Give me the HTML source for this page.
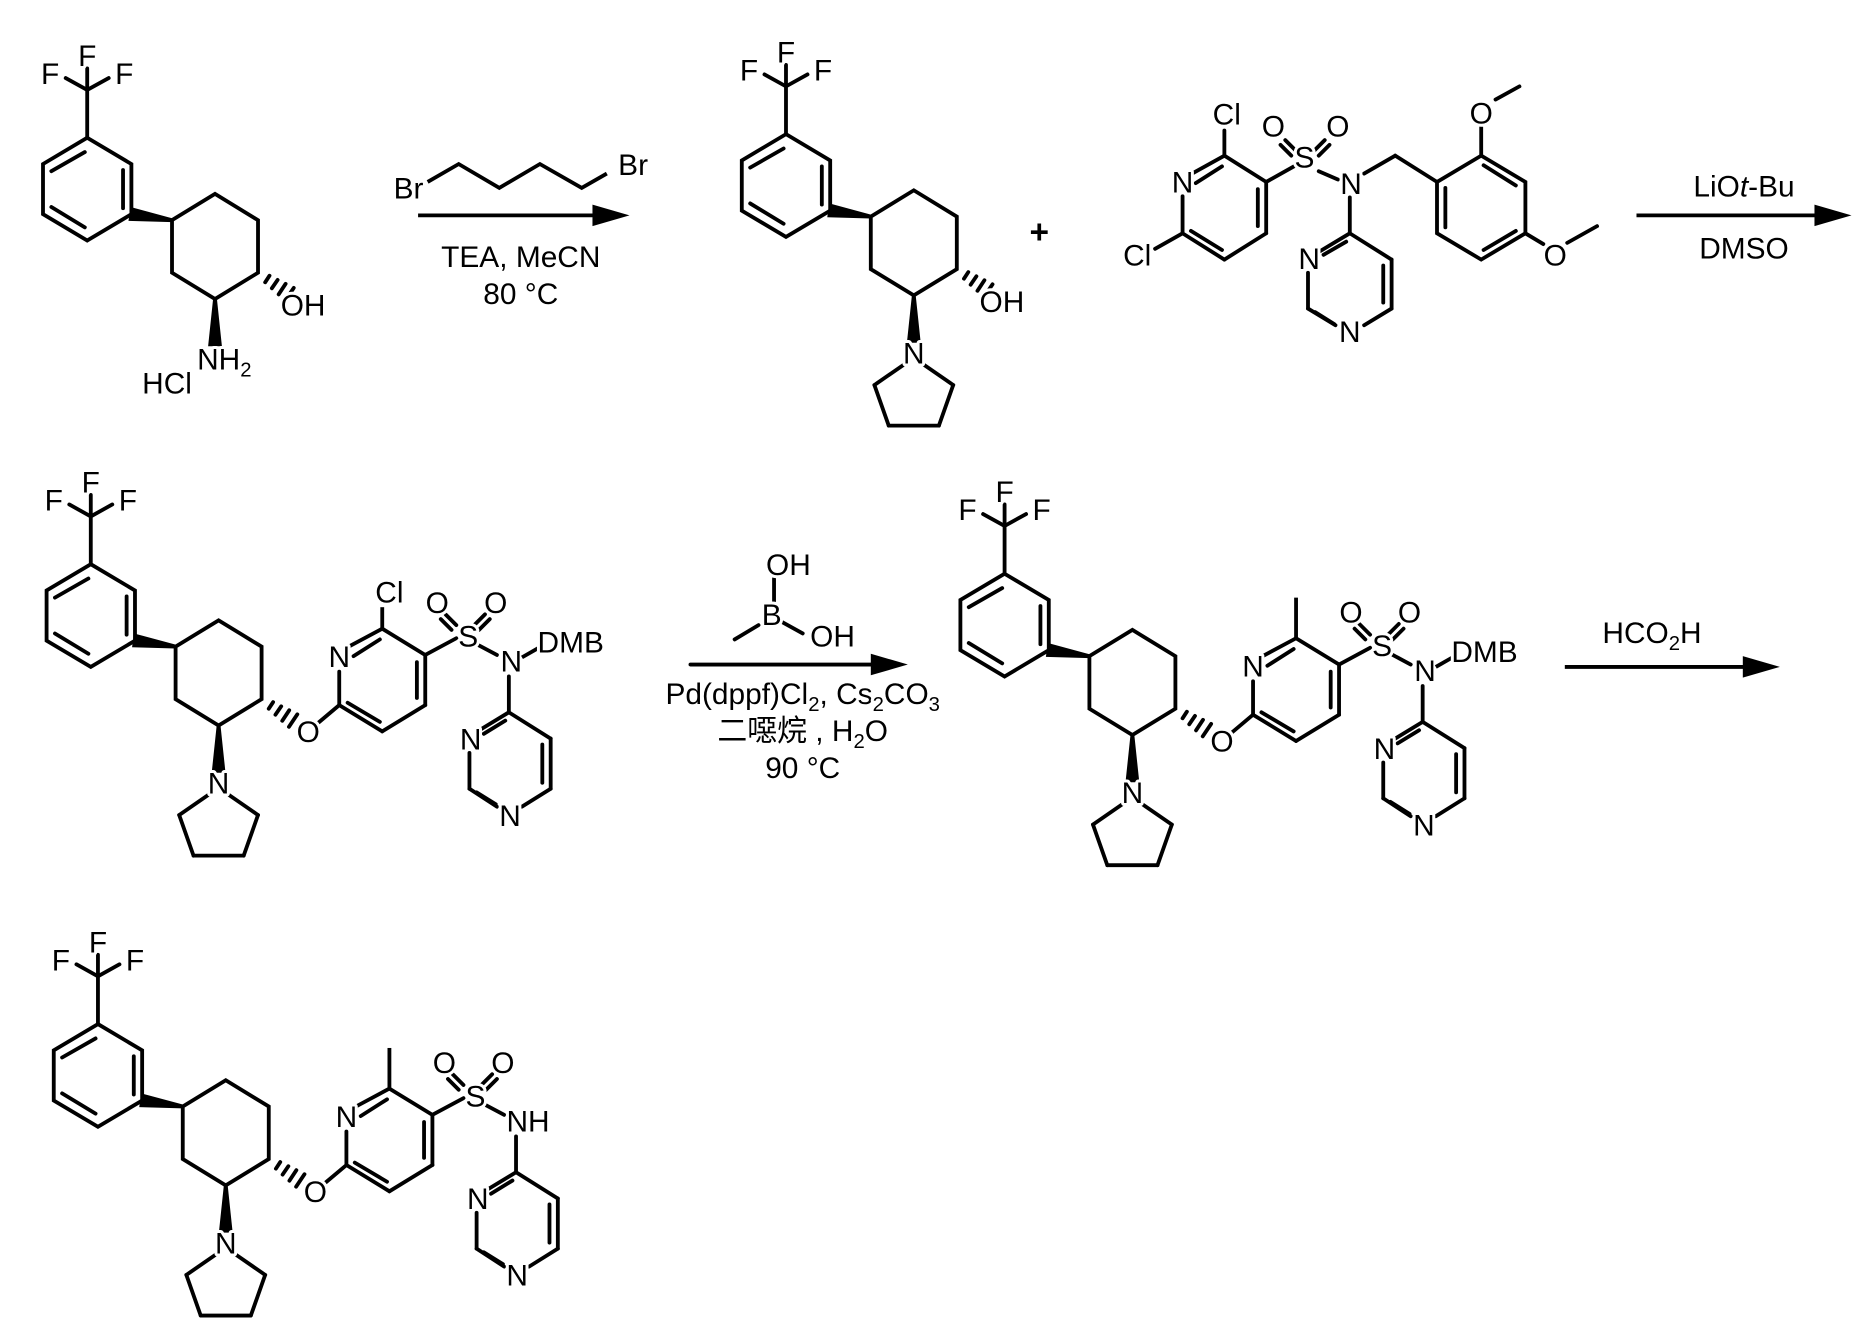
<!DOCTYPE html>
<html><head><meta charset="utf-8"><style>
html,body{margin:0;padding:0;background:#fff;}
svg{display:block;}
text{font-family:"Liberation Sans","Noto Sans CJK SC",sans-serif;font-size:25px;fill:#000;stroke:#fff;stroke-width:5px;paint-order:stroke;stroke-linejoin:round;}
</style></head><body>
<svg width="1873" height="1341" viewBox="0 0 1568 1122" xmlns="http://www.w3.org/2000/svg">
<defs>
<g id="core" stroke="#000" stroke-width="3.2" fill="none" stroke-linecap="round">
  <line x1="76" y1="472" x2="76" y2="432"/>
  <line x1="76" y1="432" x2="76" y2="414"/>
  <line x1="76" y1="432" x2="58" y2="422"/>
  <line x1="76" y1="432" x2="94" y2="422"/>
  <polygon points="76,472 113,494 113,536 76,558 39,536 39,494"/>
  <line x1="46" y1="500" x2="74" y2="484"/>
  <line x1="106" y1="499" x2="106" y2="531"/>
  <line x1="46" y1="530" x2="74" y2="547"/>
  <polygon points="147,541 113.6,532 112.4,540" fill="#000"/>
  <polygon points="147,541 183,519 219,541 219,585 183,607 147,585"/>
  <line x1="225" y1="593" x2="228.6" y2="587.5"/>
  <line x1="230.6" y1="598" x2="235.4" y2="591"/>
  <line x1="236.3" y1="603.1" x2="242.1" y2="594.3"/>
  <line x1="241.9" y1="608.1" x2="248.9" y2="597.7"/>
  <polygon points="183,607 179,645 187,645" fill="#000"/>
</g>
<g id="cf3t">
  <text x="76" y="412" text-anchor="middle">F</text>
  <text x="45" y="427" text-anchor="middle">F</text>
  <text x="107" y="427" text-anchor="middle">F</text>
</g>
<g id="pyr">
  <g stroke="#000" stroke-width="3.2" fill="none" stroke-linecap="round">
  <line x1="190" y1="664" x2="216" y2="682"/>
  <line x1="216" y1="682" x2="204" y2="716"/>
  <line x1="204" y1="716" x2="162" y2="716"/>
  <line x1="162" y1="716" x2="150" y2="682"/>
  <line x1="150" y1="682" x2="176" y2="664"/>
  </g>
  <text x="183" y="664" text-anchor="middle">N</text>
</g>
<g id="tail" stroke="#000" stroke-width="3.2" fill="none" stroke-linecap="round">
  <line x1="265" y1="606" x2="284" y2="590"/>
  <line x1="284" y1="590" x2="284" y2="562"/>
  <line x1="292" y1="541" x2="320" y2="526"/>
  <line x1="320" y1="526" x2="356" y2="548"/>
  <line x1="356" y1="548" x2="356" y2="590"/>
  <line x1="356" y1="590" x2="320" y2="612"/>
  <line x1="320" y1="612" x2="284" y2="590"/>
  <line x1="296" y1="549" x2="318" y2="535"/>
  <line x1="349" y1="554" x2="349" y2="584"/>
  <line x1="318" y1="604" x2="291" y2="588"/>
  <line x1="356" y1="548" x2="382" y2="534"/>
  <line x1="382" y1="523" x2="373" y2="514"/>
  <line x1="378" y1="527" x2="369" y2="518"/>
  <line x1="397" y1="523" x2="406" y2="514"/>
  <line x1="401" y1="527" x2="410" y2="518"/>
  <line x1="401" y1="540" x2="416" y2="548"/>
  <line x1="426" y1="566" x2="426" y2="596"/>
  <line x1="426" y1="596" x2="403" y2="610"/>
  <line x1="393" y1="630" x2="393" y2="660"/>
  <line x1="393" y1="660" x2="416" y2="675"/>
  <line x1="437" y1="675" x2="461" y2="660"/>
  <line x1="461" y1="660" x2="461" y2="618"/>
  <line x1="461" y1="618" x2="426" y2="596"/>
  <line x1="423" y1="603" x2="405" y2="614"/>
  <line x1="454" y1="623" x2="454" y2="655"/>
  <line x1="399" y1="663" x2="415" y2="673"/>
</g>
<g id="tailt">
  <text x="284" y="558" text-anchor="middle">N</text>
  <text x="392" y="541" text-anchor="middle">S</text>
  <text x="366" y="513" text-anchor="middle">O</text>
  <text x="415" y="513" text-anchor="middle">O</text>
  <text x="394" y="627" text-anchor="middle">N</text>
  <text x="427" y="691" text-anchor="middle">N</text>
</g>
</defs>

<!-- Molecule 1 -->
<g transform="translate(-3,-357)">
  <use href="#core"/><use href="#cf3t"/>
  <text x="238" y="621">OH</text>
  <text x="168" y="666">NH<tspan font-size="17" dy="6">2</tspan></text>
  <text x="122" y="686">HCl</text>
</g>

<!-- Arrow 1 -->
<g stroke="#000" stroke-width="3.2" fill="none">
  <polyline points="358,152 384,137 418,157 452,137 487,157 508,145"/>
  <line x1="350" y1="180" x2="505" y2="180"/>
</g>
<polygon points="527,180 496,171 496,189" fill="#000"/>
<text x="342" y="166" text-anchor="middle">Br</text>
<text x="530" y="146" text-anchor="middle">Br</text>
<text x="436" y="223" text-anchor="middle">TEA, MeCN</text>
<text x="436" y="254" text-anchor="middle">80 °C</text>

<!-- Molecule 2 -->
<g transform="translate(582,-360)">
  <use href="#core"/><use href="#cf3t"/><use href="#pyr"/>
  <text x="238" y="621">OH</text>
</g>
<text x="870" y="203" text-anchor="middle" font-weight="bold" style="font-size:28px">+</text>

<!-- Reagent sulfonamide -->
<g stroke="#000" stroke-width="3.2" fill="none" stroke-linecap="round">
  <line x1="990" y1="195" x2="990" y2="164"/>
  <line x1="998" y1="145" x2="1025" y2="130"/>
  <line x1="1025" y1="130" x2="1060" y2="152"/>
  <line x1="1060" y1="152" x2="1060" y2="195"/>
  <line x1="1060" y1="195" x2="1025" y2="217"/>
  <line x1="1025" y1="217" x2="990" y2="195"/>
  <line x1="1001" y1="153" x2="1023" y2="139"/>
  <line x1="1053" y1="158" x2="1053" y2="189"/>
  <line x1="1023" y1="209" x2="997" y2="193"/>
  <line x1="1025" y1="130" x2="1025" y2="109"/>
  <line x1="990" y1="195" x2="967" y2="208"/>
  <line x1="1060" y1="152" x2="1085" y2="138"/>
  <line x1="1085" y1="126" x2="1076" y2="117"/>
  <line x1="1081" y1="130" x2="1072" y2="121"/>
  <line x1="1100" y1="126" x2="1109" y2="117"/>
  <line x1="1104" y1="130" x2="1113" y2="121"/>
  <line x1="1104" y1="143" x2="1120" y2="150"/>
  <line x1="1142" y1="145" x2="1168" y2="130"/>
  <line x1="1168" y1="130" x2="1203" y2="152"/>
  <polygon points="1240,130 1277,152 1277,195 1240,217 1203,195 1203,152"/>
  <line x1="1210" y1="157" x2="1210" y2="190"/>
  <line x1="1242" y1="138" x2="1269" y2="155"/>
  <line x1="1269" y1="193" x2="1242" y2="209"/>
  <line x1="1240" y1="130" x2="1240" y2="106"/>
  <line x1="1252" y1="83" x2="1272" y2="72"/>
  <line x1="1277" y1="195" x2="1292" y2="204"/>
  <line x1="1312" y1="203" x2="1337" y2="189"/>
  <line x1="1130" y1="165" x2="1130" y2="195"/>
  <line x1="1130" y1="195" x2="1105" y2="210"/>
  <line x1="1095" y1="228" x2="1095" y2="258"/>
  <line x1="1095" y1="258" x2="1118" y2="272"/>
  <line x1="1142" y1="272" x2="1165" y2="258"/>
  <line x1="1165" y1="258" x2="1165" y2="217"/>
  <line x1="1165" y1="217" x2="1130" y2="195"/>
  <line x1="1127" y1="202" x2="1108" y2="213"/>
  <line x1="1158" y1="222" x2="1158" y2="253"/>
  <line x1="1101" y1="261" x2="1117" y2="271"/>
</g>
<text x="990" y="161" text-anchor="middle">N</text>
<text x="1027" y="104" text-anchor="middle">Cl</text>
<text x="952" y="222" text-anchor="middle">Cl</text>
<text x="1092" y="140" text-anchor="middle">S</text>
<text x="1066" y="114" text-anchor="middle">O</text>
<text x="1120" y="114" text-anchor="middle">O</text>
<text x="1131" y="162" text-anchor="middle">N</text>
<text x="1240" y="103" text-anchor="middle">O</text>
<text x="1302" y="222" text-anchor="middle">O</text>
<text x="1096" y="225" text-anchor="middle">N</text>
<text x="1130" y="286" text-anchor="middle">N</text>

<!-- Arrow 2 -->
<line x1="1370" y1="180" x2="1528" y2="180" stroke="#000" stroke-width="3.2"/>
<polygon points="1550,180 1519,171 1519,189" fill="#000"/>
<text x="1460" y="164" text-anchor="middle">LiO<tspan font-style="italic">t</tspan>-Bu</text>
<text x="1460" y="216" text-anchor="middle">DMSO</text>

<!-- Molecule 3 -->
<g>
  <use href="#core"/><use href="#cf3t"/><use href="#pyr"/><use href="#tail"/><use href="#tailt"/>
  <text x="258" y="621" text-anchor="middle">O</text>
  <line x1="320" y1="526" x2="320" y2="508" stroke="#000" stroke-width="3.2"/>
  <text x="326" y="504" text-anchor="middle">Cl</text>
  <text x="428" y="562" text-anchor="middle">N</text>
  <line x1="437" y1="550" x2="451" y2="542" stroke="#000" stroke-width="3.2"/>
  <text x="450" y="546">DMB</text>
</g>

<!-- Arrow 3 -->
<g stroke="#000" stroke-width="3.2" fill="none" stroke-linecap="round">
  <line x1="615" y1="535" x2="635" y2="523"/>
  <line x1="648" y1="506" x2="648" y2="484"/>
  <line x1="654" y1="520" x2="672" y2="530"/>
  <line x1="578" y1="556" x2="738" y2="556"/>
</g>
<polygon points="760,556 729,547 729,565" fill="#000"/>
<text x="646" y="523" text-anchor="middle">B</text>
<text x="660" y="481" text-anchor="middle">OH</text>
<text x="697" y="541" text-anchor="middle">OH</text>
<text x="672" y="589" text-anchor="middle">Pd(dppf)Cl<tspan font-size="17" dy="6">2</tspan><tspan dy="-6">, Cs</tspan><tspan font-size="17" dy="6">2</tspan><tspan dy="-6">CO</tspan><tspan font-size="17" dy="6">3</tspan></text>
<text x="672" y="620" text-anchor="middle">二噁烷 , H<tspan font-size="17" dy="6">2</tspan><tspan dy="-6">O</tspan></text>
<text x="672" y="651" text-anchor="middle">90 °C</text>

<!-- Molecule 4 -->
<g transform="translate(765,8)">
  <use href="#core"/><use href="#cf3t"/><use href="#pyr"/><use href="#tail"/><use href="#tailt"/>
  <text x="258" y="621" text-anchor="middle">O</text>
  <line x1="320" y1="526" x2="320" y2="492" stroke="#000" stroke-width="3.2"/>
  <text x="428" y="562" text-anchor="middle">N</text>
  <line x1="437" y1="550" x2="451" y2="542" stroke="#000" stroke-width="3.2"/>
  <text x="450" y="546">DMB</text>
</g>

<!-- Arrow 4 -->
<line x1="1310" y1="558" x2="1468" y2="558" stroke="#000" stroke-width="3.2"/>
<polygon points="1490,558 1459,549 1459,567" fill="#000"/>
<text x="1383" y="538" text-anchor="middle">HCO<tspan font-size="17" dy="6">2</tspan><tspan dy="-6">H</tspan></text>

<!-- Molecule 5 -->
<g transform="translate(6,385)">
  <use href="#core"/><use href="#cf3t"/><use href="#pyr"/><use href="#tail"/><use href="#tailt"/>
  <text x="258" y="621" text-anchor="middle">O</text>
  <line x1="320" y1="526" x2="320" y2="492" stroke="#000" stroke-width="3.2"/>
  <text x="418" y="562">NH</text>
</g>
</svg>
</body></html>
